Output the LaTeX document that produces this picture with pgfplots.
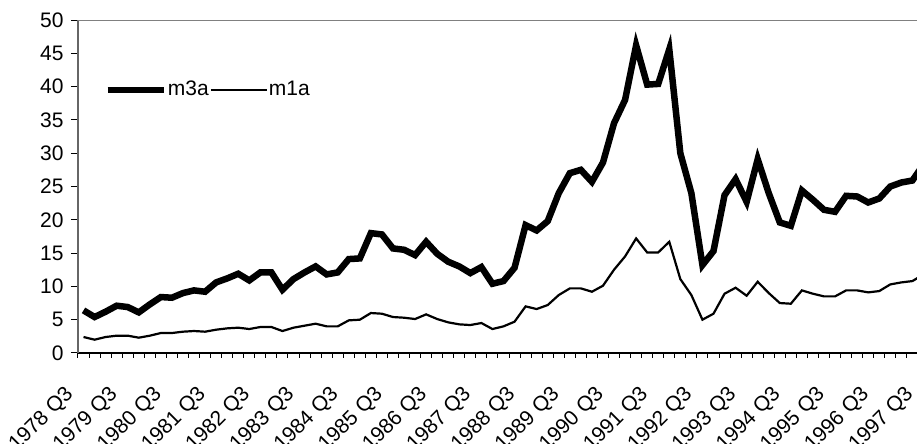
\documentclass[border=0pt]{standalone}
\usepackage{fontspec}
\setmainfont{Liberation Sans}
\usepackage{pgfplots}
\usepackage{pgfplotstable}
\pgfplotsset{compat=1.18}

% quarterly series, index 0 = 1978 Q3
\pgfplotstableread{
i m3a m1a
0 6.4 2.4
1 5.4 2.0
2 6.2 2.4
3 7.1 2.6
4 6.9 2.6
5 6.1 2.3
6 7.3 2.6
7 8.4 3.0
8 8.3 3.0
9 9.0 3.2
10 9.4 3.3
11 9.2 3.2
12 10.6 3.5
13 11.2 3.7
14 11.9 3.8
15 10.9 3.6
16 12.1 3.9
17 12.1 3.9
18 9.5 3.3
19 11.1 3.8
20 12.1 4.1
21 13.0 4.4
22 11.8 4.0
23 12.1 4.0
24 14.1 4.9
25 14.2 5.0
26 18.0 6.0
27 17.8 5.9
28 15.7 5.4
29 15.5 5.3
30 14.7 5.1
31 16.7 5.8
32 14.9 5.1
33 13.7 4.6
34 13.0 4.3
35 12.0 4.2
36 12.9 4.5
37 10.4 3.6
38 10.8 4.0
39 12.8 4.7
40 19.2 7.0
41 18.4 6.6
42 19.8 7.2
43 24.0 8.7
44 27.0 9.7
45 27.5 9.7
46 25.7 9.2
47 28.6 10.1
48 34.5 12.5
49 38.0 14.5
50 46.2 17.2
51 40.3 15.1
52 40.4 15.1
53 45.6 16.7
54 30.0 11.1
55 24.0 8.7
56 13.2 5.0
57 15.3 5.9
58 23.7 8.9
59 26.1 9.8
60 22.7 8.6
61 29.1 10.7
62 24.0 9.0
63 19.6 7.5
64 19.1 7.4
65 24.4 9.4
66 23.0 8.9
67 21.5 8.5
68 21.2 8.5
69 23.6 9.4
70 23.5 9.4
71 22.6 9.1
72 23.2 9.3
73 25.0 10.3
74 25.6 10.6
75 25.9 10.8
76 28.3 11.8
}\qdata

\begin{document}
\begin{tikzpicture}
% the reference is cut off at its right edge
\path[use as bounding box] (-39pt,-45.5pt) rectangle (419.5pt,176.5pt);
\clip (-39pt,-45.5pt) rectangle (419.5pt,176.5pt);
\begin{axis}[
  at={(0pt,0pt)}, anchor=south west,
  scale only axis, width=425.5pt, height=166.5pt,
  xmin=-0.5, xmax=76.5, ymin=0, ymax=50,
  axis x line*=bottom, axis y line*=left,
  x axis line style={black, line width=0.6pt, -},
  y axis line style={gray!80!black, line width=0.6pt, -},
  tick align=outside,
  major tick length=3.5pt, minor tick length=2.5pt,
  ytick={0,5,...,50},
  xtick={0,4,...,76},
  xticklabels={1978 Q3,1979 Q3,1980 Q3,1981 Q3,1982 Q3,1983 Q3,1984 Q3,1985 Q3,1986 Q3,1987 Q3,1988 Q3,1989 Q3,1990 Q3,1991 Q3,1992 Q3,1993 Q3,1994 Q3,1995 Q3,1996 Q3,1997 Q3},
  minor xtick={-0.5,0.5,...,76.5},
  major x tick style={draw=none},
  minor x tick style={black, line width=0.5pt},
  ytick style={black, line width=0.5pt},
  /pgf/number format/assume math mode=true,
  tick label style={font=\fontsize{10.5}{12.6}\selectfont},
  yticklabel style={inner sep=3.5pt},
  xticklabel style={xshift=-10pt, yshift=-12pt, rotate=45, anchor=north east, inner sep=0pt},
  legend style={at={(rel axis cs:0,0.79)}, xshift=13pt, anchor=west, draw=none, fill=none,
    font=\fontsize{10.5}{12.6}\selectfont, inner sep=0pt, nodes={inner sep=0.5pt},
    /tikz/every even column/.append style={column sep=0pt}},
  legend columns=2,
  legend image code/.code={\draw[#1] (0pt,0pt) -- (28pt,0pt);},
]
\draw[gray, line width=0.6pt] (rel axis cs:0,1) -- (rel axis cs:1,1);
\addplot[black, line width=3.25pt] table[x=i, y=m3a] {\qdata};
\addlegendentry{m3a}
\addplot[black, line width=1.1pt] table[x=i, y=m1a] {\qdata};
\addlegendentry{m1a}
\end{axis}
\end{tikzpicture}
\end{document}
